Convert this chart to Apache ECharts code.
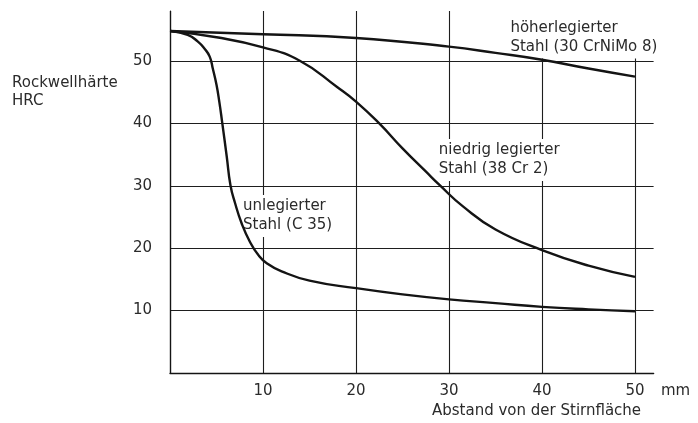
<!DOCTYPE html>
<html>
<head>
<meta charset="utf-8">
<script src="https://cdn.jsdelivr.net/npm/echarts@6/dist/echarts.min.js"></script>
<style>
html,body{margin:0;padding:0;background:#fff;}
#c{width:698px;height:423px;}
</style>
</head>
<body>
<div id="c"></div>
<script>
// Tick values
var xTicks = [10, 20, 30, 40, 50];
var yTicks = [10, 20, 30, 40, 50];

// unlegierter Stahl (C 35)
var unlegX = [0, 1.9, 3.0, 3.7, 4.27, 4.6, 5.0, 5.3, 5.6, 6.1, 6.5, 7.0, 7.7, 8.6, 9.5, 10.4, 12, 15, 20, 25, 30, 35, 40, 45, 50];
var unlegY = [54.8, 54.2, 53.1, 52.0, 50.7, 48.8, 46.2, 43.5, 40.3, 34.7, 30.1, 27.2, 24.0, 21.0, 18.9, 17.6, 16.3, 14.8, 13.6, 12.6, 11.8, 11.2, 10.6, 10.2, 9.9];

// niedrig legierter Stahl (38 Cr 2)
var niedX = [0, 5, 10, 14, 18, 20, 22.5, 25, 27.5, 29, 31.5, 35, 40, 45, 50];
var niedY = [54.8, 53.8, 52.2, 50, 45.8, 43.5, 40, 36, 32.3, 30.1, 26.7, 23, 19.7, 17.2, 15.4];

// höherlegierter Stahl (30 CrNiMo 8)
var hoehX = [0, 10, 20, 30, 35, 40, 45, 50];
var hoehY = [54.8, 54.3, 53.7, 52.3, 51.3, 50.2, 48.8, 47.5];

// Curve annotations: [x, y, text]
var annotations = [
  [36.6, 56.8, 'höherlegierter\nStahl (30 CrNiMo 8)'],
  [28.9, 37.2, 'niedrig legierter\nStahl (38 Cr 2)'],
  [7.85, 28.2, 'unlegierter\nStahl (C 35)']
];

var X_MAX = 52, Y_MAX = 58;
var FONT = 'DejaVu Sans';
var TXT = '#2b2b2b';
var INK = '#141414';

function zip(xs, ys) { return xs.map(function (x, i) { return [x, ys[i]]; }); }

var gridLines = [];
xTicks.forEach(function (x) { gridLines.push([{ coord: [x, 0] }, { coord: [x, Y_MAX] }]); });
yTicks.forEach(function (y) { gridLines.push([{ coord: [0, y] }, { coord: [X_MAX, y] }]); });

var chart = echarts.init(document.getElementById('c'), null, { renderer: 'canvas' });

var curveStyle = { color: INK, width: 2.4 };
var labelPads = [[10, 2, 2, 2], [2, 2, 2, 2], [2, 2, 2, 2]];

chart.setOption({
  animation: false,
  backgroundColor: '#fff',
  grid: { left: 170, right: 44.4, top: 11.1, bottom: 50 },
  xAxis: {
    type: 'value', min: 0, max: X_MAX, interval: 10,
    axisLine: { show: true, lineStyle: { color: INK, width: 1.4 } },
    axisTick: { show: false },
    splitLine: { show: false },
    axisLabel: {
      margin: 11, color: TXT, fontFamily: FONT, fontSize: 15,
      formatter: function (v) { return xTicks.indexOf(v) >= 0 ? String(v) : ''; }
    }
  },
  yAxis: {
    type: 'value', min: 0, max: Y_MAX, interval: 10,
    axisLine: { show: true, lineStyle: { color: INK, width: 1.4 } },
    axisTick: { show: false },
    splitLine: { show: false },
    axisLabel: {
      margin: 18, color: TXT, fontFamily: FONT, fontSize: 15, padding: [6, 0, 0, 0],
      formatter: function (v) { return yTicks.indexOf(v) >= 0 ? String(v) : ''; }
    }
  },
  graphic: [
    { type: 'text', left: 12, top: 74, style: { text: 'Rockwellhärte\nHRC', fill: TXT, font: '15px "DejaVu Sans"', lineHeight: 18 } },
    { type: 'text', left: 661, top: 384, style: { text: 'mm', fill: TXT, font: '15px "DejaVu Sans"' } },
    { type: 'text', left: 432, top: 404, style: { text: 'Abstand von der Stirnfläche', fill: TXT, font: '15px "DejaVu Sans"' } }
  ],
  series: [
    {
      type: 'line', data: [], silent: true, z: 0,
      markLine: {
        silent: true, symbol: ['none', 'none'], z: 0,
        label: { show: false },
        lineStyle: { color: '#1e1e1e', width: 1.1, type: 'solid' },
        emphasis: { disabled: true },
        data: gridLines
      }
    },
    {
      type: 'scatter', symbolSize: 0, z: 1, silent: true, clip: false,
      itemStyle: { opacity: 1 },
      data: annotations.map(function (a, i) {
        var p = labelPads[i];
        return { value: [a[0], a[1]], label: { formatter: a[2], padding: p, offset: [-p[3], -p[0]] } };
      }),
      label: {
        show: true, position: [0, 0], align: 'left', verticalAlign: 'top',
        color: TXT, opacity: 1, fontFamily: FONT, fontSize: 15, lineHeight: 19,
        backgroundColor: '#fff'
      }
    },
    { type: 'line', z: 2, data: zip(hoehX, hoehY), smooth: 0.5, showSymbol: false, lineStyle: curveStyle },
    { type: 'line', z: 2, data: zip(niedX, niedY), smooth: 0.5, showSymbol: false, lineStyle: curveStyle },
    { type: 'line', z: 2, data: zip(unlegX, unlegY), smooth: 0.5, showSymbol: false, lineStyle: curveStyle }
  ]
});
</script>
</body>
</html>
